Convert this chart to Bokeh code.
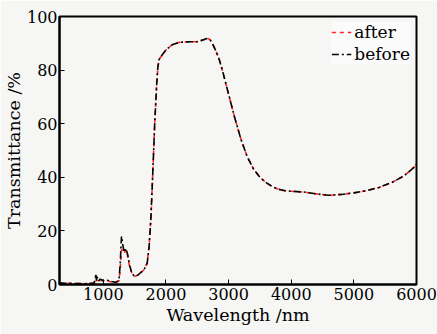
from bokeh.plotting import figure
from bokeh.models import FixedTicker, ColumnDataSource, Legend, LegendItem
from bokeh.embed import file_html
from bokeh.resources import INLINE

wavelength = [300, 500, 700, 850, 870, 880, 890, 900, 920, 950, 1000, 1050, 1100, 1150,
              1200, 1250, 1270, 1290, 1310, 1330, 1360, 1390, 1420, 1460, 1500, 1550,
              1600, 1650, 1700, 1730, 1760, 1790, 1820, 1850, 1870, 1890, 1920, 1950,
              2000, 2100, 2200, 2300, 2400, 2500, 2600, 2650, 2700, 2750, 2800, 2850,
              2900, 2950, 3000, 3100, 3200, 3300, 3400, 3500, 3600, 3700, 3800, 3900,
              4000, 4200, 4400, 4600, 4800, 5000, 5200, 5400, 5600, 5800, 5900, 5950, 6000]
before = [0.5, 0.4, 0.3, 0.5, 2.0, 4.0, 1.5, 3.0, 1.2, 2.0, 1.5, 1.8, 1.2, 1.0,
          0.8, 1.5, 8.0, 18.0, 15.0, 12.0, 13.5, 11.0, 7.0, 4.0, 3.0, 3.5,
          4.5, 5.5, 8.0, 14.0, 25.0, 42.0, 60.0, 74.0, 81.0, 84.0, 85.0, 86.0,
          87.5, 89.5, 90.3, 90.5, 90.6, 90.6, 91.3, 91.8, 91.5, 89.5, 87.0, 84.0,
          80.0, 75.5, 71.0, 62.0, 54.0, 47.5, 43.0, 40.0, 38.0, 36.5, 35.5, 35.0,
          34.8, 34.5, 33.8, 33.3, 33.6, 34.2, 35.0, 36.2, 38.0, 40.5, 42.5, 43.5, 45.0]
after = [0.5, 0.4, 0.3, 0.5, 1.2, 2.0, 1.2, 1.8, 1.0, 1.5, 1.3, 1.5, 1.1, 1.0,
         0.8, 1.4, 6.0, 13.0, 12.5, 11.5, 13.0, 10.5, 6.5, 4.0, 3.0, 3.5,
         4.5, 5.5, 8.0, 14.0, 25.0, 42.0, 60.0, 74.0, 81.0, 84.0, 85.0, 86.0,
         87.5, 89.5, 90.3, 90.5, 90.6, 90.6, 91.3, 91.8, 91.5, 89.5, 87.0, 84.0,
         80.0, 75.5, 71.0, 62.0, 54.0, 47.5, 43.0, 40.0, 38.0, 36.5, 35.5, 35.0,
         34.8, 34.5, 33.8, 33.3, 33.6, 34.2, 35.0, 36.2, 38.0, 40.5, 42.5, 43.5, 44.5]
x_ticks = [1000, 2000, 3000, 4000, 5000, 6000]
y_ticks = [0, 20, 40, 60, 80, 100]

FONT = "DejaVu Serif"
BG = "#f6f6f4"

p = figure(width=437, height=334, output_backend="svg", toolbar_location=None,
           x_range=(300, 6000), y_range=(0, 100),
           min_border_left=56, min_border_right=21, min_border_top=16, min_border_bottom=50)
p.background_fill_color = BG
p.border_fill_color = BG
p.grid.visible = False
p.outline_line_color = "black"
p.outline_line_width = 2

src = ColumnDataSource(dict(x=wavelength, before=before, after=after))
r_after = p.line("x", "after", source=src, line_color="#ff2020", line_width=1.6, line_dash="4 4")
r_before = p.line("x", "before", source=src, line_color="black", line_width=1.6, line_dash="7 3 2 3")

for ax in (p.xaxis[0], p.yaxis[0]):
    ax.axis_line_color = "black"
    ax.axis_line_width = 2
    ax.major_tick_in = 5
    ax.major_tick_out = 0
    ax.major_tick_line_color = "black"
    ax.minor_tick_line_color = None
    ax.major_label_text_font = FONT
    ax.major_label_text_font_size = "16px"
    ax.major_label_text_color = "black"
    ax.axis_label_text_font = FONT
    ax.axis_label_text_font_size = "17.5px"
    ax.axis_label_text_font_style = "normal"
    ax.axis_label_text_color = "black"

p.xaxis.ticker = FixedTicker(ticks=x_ticks)
p.yaxis.ticker = FixedTicker(ticks=y_ticks)
p.xaxis.axis_label = "Wavelength /nm"
p.yaxis.axis_label = "Transmittance /%"
p.xaxis.major_label_standoff = 3
p.xaxis.axis_label_standoff = 2
p.yaxis.major_label_standoff = 2
p.yaxis.axis_label_standoff = 0

legend = Legend(items=[LegendItem(label="after", renderers=[r_after]),
                       LegendItem(label="before", renderers=[r_before])],
                location="top_right")
legend.label_text_font = FONT
legend.label_text_font_size = "17px"
legend.label_text_color = "black"
legend.border_line_color = None
legend.background_fill_color = "white"
legend.background_fill_alpha = 0.6
legend.glyph_width = 20
legend.label_standoff = 3
legend.spacing = 2
legend.padding = 2
legend.margin = 6
legend.label_height = 18
p.add_layout(legend)

open("out.html", "w").write(file_html(p, INLINE))
